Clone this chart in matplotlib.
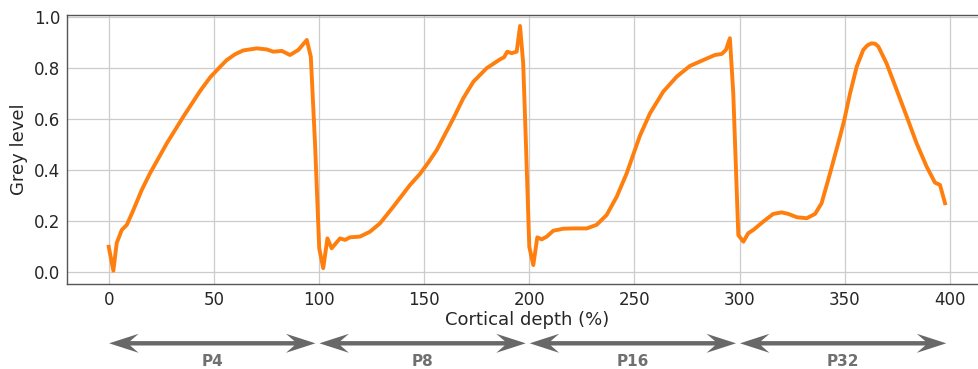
import matplotlib
matplotlib.use("Agg")
import matplotlib.pyplot as plt
from matplotlib.patches import Polygon
from matplotlib.transforms import blended_transform_factory
import numpy as np

# ---- data ----
p4_depth = [0, 2.2, 3.8, 6.2, 8.6, 11.7, 15.7, 19.6, 27.6, 35.5, 43.4, 48.3, 52.9,
            56.1, 60.1, 64, 70.4, 75.1, 78.3, 82.3, 86.2, 90.2, 94.2, 96.1, 98.1]
p4_grey = [0.099, 0.005, 0.114, 0.165, 0.185, 0.243, 0.322, 0.387, 0.505, 0.61, 0.71,
           0.765, 0.805, 0.832, 0.855, 0.870, 0.878, 0.874, 0.865, 0.868, 0.852, 0.872,
           0.911, 0.845, 0.505]

p8_depth = [100.1, 102, 104, 106, 110, 112.4, 114.7, 119.5, 124.2, 129, 135.3, 143.3,
            148, 152, 156, 163.9, 168.6, 173.4, 179.7, 186.1, 188, 189.5, 191.6, 194,
            195.6, 197.1, 198.4]
p8_grey = [0.093, 0.015, 0.132, 0.093, 0.132, 0.126, 0.136, 0.139, 0.158, 0.191, 0.256,
           0.342, 0.385, 0.43, 0.479, 0.603, 0.682, 0.747, 0.8, 0.835, 0.843, 0.865,
           0.859, 0.865, 0.966, 0.819, 0.505]

p16_depth = [200, 201.9, 203.8, 205.9, 208.3, 211.4, 216.2, 220.9, 227.3, 232, 236.8,
             241.6, 246.3, 252.6, 257.4, 263.7, 270.1, 276.4, 282.7, 288.3, 291.5,
             293.5, 295.4, 297, 298.3]
p16_grey = [0.099, 0.027, 0.136, 0.128, 0.139, 0.162, 0.170, 0.171, 0.171, 0.185, 0.224,
            0.296, 0.387, 0.535, 0.623, 0.708, 0.767, 0.809, 0.832, 0.852, 0.856, 0.872,
            0.918, 0.702, 0.40]

p32_depth = [299.4, 301.8, 304.1, 306.5, 311.3, 316, 320, 323.2, 327.2, 331.9, 335.9,
             339, 343, 347.7, 349.8, 352.5, 355.7, 358.8, 360.8, 362.8, 364.5, 366,
             369.9, 374.7, 379.5, 384.2, 389, 392.9, 395.3, 397.7]
p32_grey = [0.145, 0.119, 0.152, 0.165, 0.198, 0.228, 0.234, 0.228, 0.215, 0.211, 0.228,
            0.27, 0.387, 0.53, 0.597, 0.70, 0.806, 0.872, 0.89, 0.898, 0.896, 0.885,
            0.819, 0.715, 0.61, 0.505, 0.413, 0.351, 0.342, 0.27]

stage_labels = ["P4", "P8", "P16", "P32"]
stage_starts = [0, 100, 200, 300]
x_ticks = [0, 50, 100, 150, 200, 250, 300, 350, 400]
y_ticks = [0.0, 0.2, 0.4, 0.6, 0.8, 1.0]

depth = np.concatenate([p4_depth, p8_depth, p16_depth, p32_depth])
grey = np.concatenate([p4_grey, p8_grey, p16_grey, p32_grey])

# ---- figure ----
W, H = 979, 369
fig = plt.figure(figsize=(W / 100, H / 100), dpi=100)
ax = fig.add_axes([67.3 / W, 1 - 283.7 / H, (987.5 - 67.3) / W, (283.7 - 14.7) / H])

ax.plot(depth, grey, color="#ff7f0e", lw=2.8, solid_joinstyle="round", zorder=3)

ax.set_xlim(-19.7, 417.9)
ax.set_ylim(-0.046, 1.0102)
ax.set_xticks(x_ticks)
ax.set_yticks(y_ticks)
ax.grid(True, color="#cccccc", lw=0.9)
ax.set_axisbelow(True)
ax.tick_params(length=0, labelsize=12, pad=5, colors="#262626")
for s in ax.spines.values():
    s.set_color("#555555")
    s.set_linewidth(1.0)
ax.set_xlabel("Cortical depth (%)", fontsize=13, labelpad=2, color="#262626")
ax.set_ylabel("Grey level", fontsize=13, color="#262626")

# ---- stage arrows below the axes ----
tr = blended_transform_factory(ax.transData, fig.transFigure)
y_arrow = 1 - 343.3 / H
Hh = 9.5 / H      # half head height (figure fraction)
th = 2.2 / H      # half shaft thickness
L = 14.0          # head length (data units)
N = 4.0           # notch depth (data units)
arrow_color = "#686868"
for lab, s in zip(stage_labels, stage_starts):
    x0, x1 = s + 0.2, s + 98.3
    pts = [(x0, y_arrow), (x0 + L, y_arrow + Hh), (x0 + L - N, y_arrow + th),
           (x1 - L + N, y_arrow + th), (x1 - L, y_arrow + Hh), (x1, y_arrow),
           (x1 - L, y_arrow - Hh), (x1 - L + N, y_arrow - th),
           (x0 + L - N, y_arrow - th), (x0 + L, y_arrow - Hh)]
    poly = Polygon(pts, closed=True, transform=tr, facecolor=arrow_color,
                   edgecolor="none", clip_on=False)
    fig.patches.append(poly)
    fig.text((x0 + x1) / 2, 1 - 361.5 / H, lab, transform=tr, ha="center",
             va="center", fontsize=11, fontweight="bold", color="#707070")

fig.savefig("out.png", dpi=100)
